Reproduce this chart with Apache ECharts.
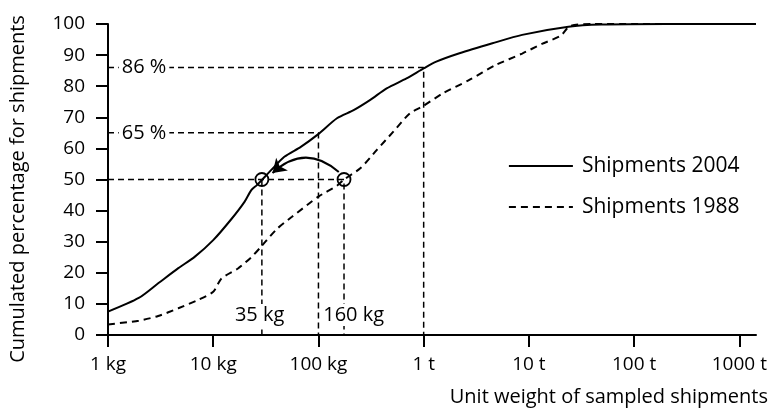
<!DOCTYPE html>
<html>
<head>
<meta charset="utf-8">
<script src="https://cdn.jsdelivr.net/npm/echarts@6/dist/echarts.min.js"></script>
<style>
html,body{margin:0;padding:0;background:#fff;}
#chart{width:775px;height:412px;}
</style>
</head>
<body>
<div id="chart"></div>
<script>
// ---- data (x in kg, y in cumulated %) ----
var weights2004 = [1, 1.96, 3.02, 4.66, 6.7, 10, 14.9, 19.9, 23, 26, 29.3, 35.5, 47.4, 68, 99, 150, 216, 311, 445, 687, 1008, 1318, 2188, 4500, 8630, 23770, 48900, 200000, 1440000];
var share2004   = [7.5, 11.9, 16.7, 21.5, 25.2, 30.5, 37.3, 42.9, 46.6, 48.2, 50, 53, 57.3, 60.5, 64.5, 69.7, 72.3, 75.6, 79.3, 82.5, 85.8, 87.9, 90.6, 93.8, 96.5, 99.1, 99.8, 100, 100];
var weights1988 = [1, 1.96, 3.0, 4.66, 7.2, 10, 12, 17.2, 23, 28.5, 40, 56, 100, 150, 175, 250, 359, 515, 740, 986, 1524, 2716, 4840, 8630, 13300, 20000, 24500, 40000, 1440000];
var share1988   = [3.4, 4.6, 6.1, 8.6, 11.3, 13.9, 18.2, 21.4, 25, 28.4, 34, 38, 44.5, 48, 50, 53.6, 59.5, 65.4, 71.3, 73.6, 77.7, 82, 86.8, 90.5, 93.6, 96.2, 99.3, 100, 100];

var xTickValues = [1, 10, 100, 1000, 10000, 100000, 1000000];
var xTickLabels = ['1 kg', '10 kg', '100 kg', '1 t', '10 t', '100 t', '1000 t'];

// guide lines: horizontal level -> x where it turns down
var guideLevels = [86, 65, 50];
var guideTurnX  = [1000, 100, 175];
var medianLevel = 50;
var medianX     = [29, 175];          // median 2004, median 1988
var medianLabels = ['35 kg', '160 kg'];
var medianLabelX = [27.6, 216];
var medianLabelY = 6.4;
var levelLabels = ['86 %', '65 %'];
var levelLabelX = 2.2;
var arrowFrom = [156, 52.4];
var arrowTo   = [36.6, 52.1];

var seriesNames = ['Shipments 2004', 'Shipments 1988'];

function zip(xs, ys) { return xs.map(function (x, i) { return [x, ys[i]]; }); }

var FONT = '"Open Sans", sans-serif';
var guideStyle = { color: '#000', width: 1.5, type: [6, 4] };

var series = [
  {
    name: seriesNames[0], type: 'line', data: zip(weights2004, share2004),
    showSymbol: false, symbol: 'none', smooth: 0.25, z: 5,
    lineStyle: { color: '#000', width: 2 }, itemStyle: { color: '#000' }
  },
  {
    name: seriesNames[1], type: 'line', data: zip(weights1988, share1988),
    showSymbol: false, symbol: 'none', smooth: 0.25, z: 5,
    lineStyle: { color: '#000', width: 2, type: [7, 5] }, itemStyle: { color: '#000' }
  }
];

guideLevels.forEach(function (lv, i) {
  series.push({
    type: 'line', symbol: 'none', silent: true, z: 2,
    data: [[1, lv], [guideTurnX[i], lv], [guideTurnX[i], 0]],
    lineStyle: guideStyle
  });
});
series.push({
  type: 'line', symbol: 'none', silent: true, z: 2,
  data: [[medianX[0], medianLevel], [medianX[0], 0]],
  lineStyle: guideStyle
});

// circles at the medians
series.push({
  type: 'scatter', z: 6, silent: true,
  data: medianX.map(function (x) { return [x, medianLevel]; }),
  symbol: 'circle', symbolSize: 13,
  itemStyle: { color: 'rgba(0,0,0,0)', borderColor: '#000', borderWidth: 1.8, opacity: 1 }
});

// text labels
var labelData = levelLabels.map(function (t, i) {
  return { name: t, value: [levelLabelX, guideLevels[i]] };
}).concat(medianLabels.map(function (t, i) {
  return { name: t, value: [medianLabelX[i], medianLabelY] };
}));
series.push({
  type: 'scatter', z: 8, silent: true, symbolSize: 1,
  itemStyle: { opacity: 1, color: 'rgba(0,0,0,0)' },
  data: labelData,
  label: {
    show: true, position: 'inside', formatter: '{b}', opacity: 1,
    color: '#000', fontFamily: '"Open Sans", sans-serif', fontSize: 20,
    backgroundColor: '#fff', padding: [1, 3], borderRadius: 4
  }
});

// curved arrow
series.push({
  type: 'lines', coordinateSystem: 'cartesian2d', z: 7, silent: true,
  symbol: ['none', 'arrow'], symbolSize: 13,
  lineStyle: { color: '#000', width: 2, curveness: -0.45, opacity: 1 },
  data: [{ coords: [arrowFrom, arrowTo] }]
});

var chart = echarts.init(document.getElementById('chart'), null, { renderer: 'canvas' });
chart.setOption({
  animation: false,
  backgroundColor: '#fff',
  textStyle: { fontFamily: FONT },
  grid: { left: 102, right: 19, top: 24, bottom: 77 },
  title: {
    text: 'Unit weight of sampled shipments',
    right: 2, bottom: 0,
    textStyle: { fontFamily: FONT, fontSize: 20, fontWeight: 'normal', color: '#000' }
  },
  legend: {
    data: seriesNames, orient: 'vertical', left: 503, top: 150,
    itemWidth: 64, itemHeight: 14, itemGap: 19,
    itemStyle: { opacity: 0 },
    lineStyle: { width: 1.8 },
    textStyle: { fontFamily: FONT, fontSize: 21, color: '#000', lineHeight: 22, padding: [0, 0, 0, 4] }
  },
  xAxis: {
    type: 'log', logBase: 10, min: 1, max: 1440000,
    axisLine: { show: true, lineStyle: { color: '#000', width: 2 } },
    axisTick: { show: true, length: 12, inside: false, customValues: xTickValues, lineStyle: { color: '#000', width: 2 } },
    axisLabel: {
      customValues: xTickValues, margin: 20, color: '#000', fontFamily: FONT, fontSize: 19,
      formatter: function (v) { var i = xTickValues.indexOf(Math.round(v)); return i >= 0 ? xTickLabels[i] : ''; }
    },
    splitLine: { show: false }, minorTick: { show: false }
  },
  yAxis: {
    type: 'value', min: 0, max: 100, interval: 10,
    name: 'Cumulated percentage for shipments', nameLocation: 'middle', nameGap: 80, nameRotate: 90,
    nameTextStyle: { fontFamily: FONT, fontSize: 20, color: '#000', padding: [0, 19, 0, 0] },
    axisLine: { show: true, lineStyle: { color: '#000', width: 2 } },
    axisTick: { show: true, length: 12, inside: false, lineStyle: { color: '#000', width: 2 } },
    axisLabel: { margin: 23, color: '#000', fontFamily: FONT, fontSize: 19 },
    splitLine: { show: false }
  },
  series: series
});
</script>
</body>
</html>
